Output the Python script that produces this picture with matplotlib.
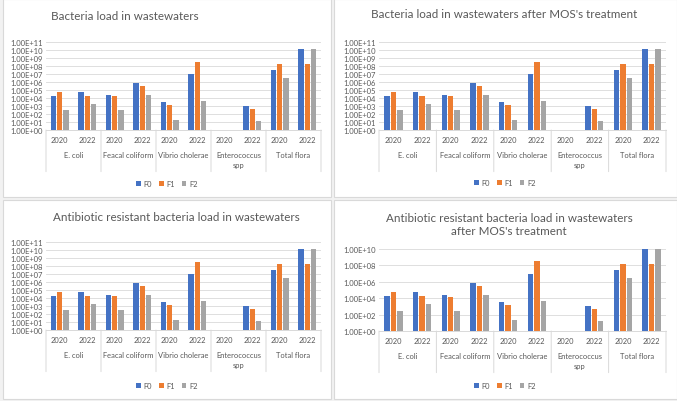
import numpy as np
import matplotlib
matplotlib.use("Agg")
import matplotlib.pyplot as plt
from matplotlib.patches import Rectangle

# データ
groups = ["E. coli", "Feacal coliform", "Vibrio cholerae", "Enterococcus\nspp", "Total flora"]
years = ["2020", "2022"]
series_names = ["F0", "F1", "F2"]
colors = ["#4472C4", "#ED7D31", "#A5A5A5"]

# 並び: E.coli 2020, 2022, Feacal 2020, 2022, ...
f0 = [2.0e4, 5.0e4, 2.3e4, 7.0e5, 3.1e3, 1.0e7, np.nan, 1.0e3, 3.0e7, 1.5e10]
f1 = [5.0e4, 2.0e4, 1.6e4, 3.5e5, 1.4e3, 3.0e8, np.nan, 4.5e2, 1.7e8, 1.7e8]
f2 = [2.8e2, 1.9e3, 2.8e2, 2.6e4, 2.0e1, 4.5e3, np.nan, 1.5e1, 3.0e6, 1.5e10]

titles = ["Bacteria load in wastewaters",
          "Bacteria load in wastewaters after MOS's treatment",
          "Antibiotic resistant bacteria load in wastewaters",
          "Antibiotic resistant bacteria load in wastewaters\nafter MOS's treatment"]

W, H = 677, 402
plt.rcParams['font.family'] = ['Lato', 'DejaVu Sans']
fig = plt.figure(figsize=(W / 100, H / 100), dpi=100)
fig.patch.set_facecolor("#F2F2F2")


def px_rect(x0, y0, x1, y1):
    # ピクセル座標 -> figure 座標
    return [x0 / W, 1 - y1 / H, (x1 - x0) / W, (y1 - y0) / H]


# パネルの枠（軸より後ろに描く）
for (x0, y0, x1, y1) in [(3, 0, 331, 198), (334, 0, 677, 198),
                         (3, 201, 331, 400), (334, 201, 677, 400)]:
    fig.patches.append(Rectangle((x0 / W, 1 - y1 / H), (x1 - x0) / W, (y1 - y0) / H,
                                 transform=fig.transFigure, facecolor="white",
                                 edgecolor="#D9D9D9", lw=0.8, zorder=-10))

# 各パネルの設定: プロット領域, y上限, 目盛り間隔, タイトル位置, 凡例位置
panels = [
    dict(area=(46, 43, 321, 131), ymax=1e11, step=1, title_xy=(125, 17), legend_xy=(167, 185)),
    dict(area=(379, 43, 666, 131), ymax=1e11, step=1, title_xy=(504, 15), legend_xy=(505, 184)),
    dict(area=(46, 243, 321, 331), ymax=1e11, step=1, title_xy=(176, 218), legend_xy=(167, 387)),
    dict(area=(379, 250, 666, 332), ymax=1e10, step=2, title_xy=(509, 225), legend_xy=(505, 387)),
]

x = np.arange(len(f0))
offsets = [-0.225, 0.0, 0.225]
data = [f0, f1, f2]

for p, title in zip(panels, titles):
    ax = fig.add_axes(px_rect(*p["area"]))
    ax.patch.set_alpha(0)
    for k in range(3):
        ax.bar(x + offsets[k], data[k], width=0.19, color=colors[k], label=series_names[k])
    ax.set_yscale("log")
    ax.set_ylim(1, p["ymax"])
    ax.set_xlim(-0.5, len(x) - 0.5)
    top = int(round(np.log10(p["ymax"])))
    ticks = [10.0 ** e for e in range(0, top + 1, p["step"])]
    ax.set_yticks(ticks)
    ax.set_yticklabels(["1.00E+%02d" % e for e in range(0, top + 1, p["step"])])
    ax.minorticks_off()
    ax.tick_params(axis="y", length=0, labelsize=5.5, labelcolor="#595959", pad=2)
    ax.set_xticks([])
    ax.grid(axis="y", color="#D9D9D9", lw=0.6)
    ax.set_axisbelow(True)
    for s in ["left", "right", "top"]:
        ax.spines[s].set_visible(False)
    ax.spines["bottom"].set_color("#D9D9D9")
    ax.spines["bottom"].set_linewidth(0.7)

    # 多段の分類軸ラベル
    tr = ax.get_xaxis_transform()
    for i in range(len(x)):
        ax.annotate(years[i % 2], xy=(x[i], 0), xycoords=tr, xytext=(0, -7),
                    textcoords="offset points", ha="center", va="center",
                    fontsize=5.4, color="#595959")
    for g, name in enumerate(groups):
        ax.annotate(name, xy=(2 * g + 0.5, 0), xycoords=tr, xytext=(0, -15),
                    textcoords="offset points", ha="center", va="top",
                    fontsize=5.4, color="#595959", linespacing=1.5)
    for b in range(len(groups) + 1):
        ax.annotate("", xy=(2 * b - 0.5, 0), xycoords=tr, xytext=(2 * b - 0.5, -30),
                    textcoords=("data", "offset points"),
                    arrowprops=dict(arrowstyle="-", color="#D9D9D9", lw=0.7,
                                    shrinkA=0, shrinkB=0))

    # タイトル
    tx, ty = p["title_xy"]
    fig.text(tx / W, 1 - ty / H, title, ha="center", va="center",
             fontsize=8.4, color="#595959", linespacing=1.2)

    # 凡例
    lx, ly = p["legend_xy"]
    fig.legend(handles=ax.containers, labels=series_names, loc="center",
               bbox_to_anchor=(lx / W, 1 - ly / H), ncol=3, frameon=False,
               fontsize=5.4, handlelength=0.6, handleheight=0.6,
               handletextpad=0.4, columnspacing=0.9, labelcolor="#595959")

fig.savefig("out.png", dpi=100, facecolor=fig.get_facecolor())
